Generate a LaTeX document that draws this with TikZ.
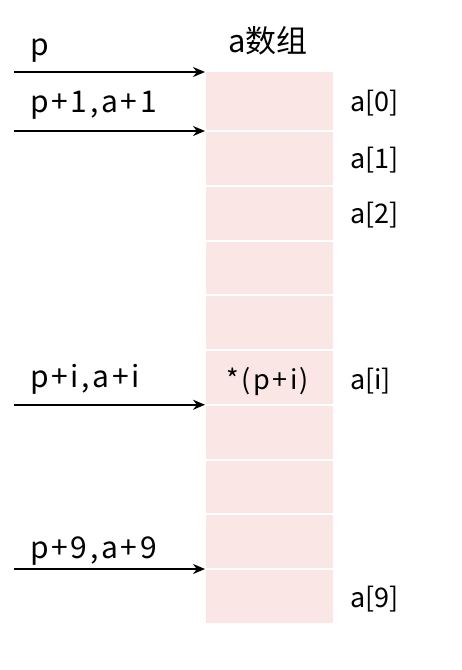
\documentclass[tikz,border=0pt]{standalone}
\usepackage{fontspec}
\setmainfont{Noto Sans CJK SC}
\newfontfamily\wideface[LetterSpace=9]{Noto Sans CJK SC}
\usepackage{xcolor}
\usetikzlibrary{arrows.meta}

\definecolor{cellpink}{RGB}{250,230,228}

\tikzset{
  cell/.style={fill=cellpink,draw=white,line width=2pt,minimum width=129pt,
    inner sep=0pt,outer sep=0pt,anchor=north west},
  ptrlabel/.style={anchor=base west,inner sep=0pt,font=\wideface\fontsize{30}{35}\selectfont},
  idxlabel/.style={anchor=base west,inner sep=0pt,font=\fontsize{27}{32}\selectfont},
  ptr/.style={line width=2pt,-{Stealth[length=12pt,width=10pt]}}
}

\begin{document}
\begin{tikzpicture}[x=1pt,y=-1pt]
\useasboundingbox (0,0) rectangle (462,670);

% the array cells
\node[cell,minimum height=60pt] (c0) at (205,71) {};
\foreach \k in {1,...,9}
   \node[cell,minimum height=54.75pt] (c\k) at (205,{131+(\k-1)*54.75}) {};

\node[anchor=base,inner sep=0pt,font=\fontsize{31}{36}\selectfont] (title) at (268,52) {a数组};
\node[anchor=base,inner sep=0pt,font=\wideface\fontsize{27}{32}\selectfont] (val) at (268,389) {*(p+i)};

% index labels
\node[idxlabel] (i0) at (350,111) {a[0]};
\node[idxlabel] (i1) at (350,168) {a[1]};
\node[idxlabel] (i2) at (350,223) {a[2]};
\node[idxlabel] (ii) at (350,389) {a[i]};
\node[idxlabel] (i9) at (350,607) {a[9]};

% pointer labels
\node[ptrlabel] (p0) at (30,55) {p};
\node[ptrlabel] (p1) at (30,112) {p+1,a+1};
\node[ptrlabel] (pi) at (30,387) {p+i,a+i};
\node[ptrlabel] (p9) at (30,558) {p+9,a+9};

% pointers
\coordinate (s0) at (14,72);
\coordinate (s1) at (14,131);
\coordinate (si) at (14,404.75);
\coordinate (s9) at (14,569);
\draw[ptr] (s0) -- (c0.north west |- s0);
\draw[ptr] (s1) -- (c1.north west);
\draw[ptr] (si) -- (c6.north west);
\draw[ptr] (s9) -- (c9.north west);

\end{tikzpicture}
\end{document}
